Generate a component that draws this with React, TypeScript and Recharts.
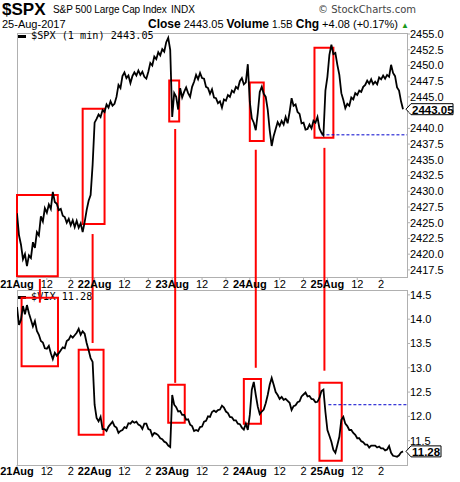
import React from "react";
import { LineChart, Line, XAxis, YAxis, ReferenceArea, ReferenceLine } from "recharts";

// 10-minute samples, 39 per session
const BARS_PER_DAY = 39;
const NOON = 15;
const TWO_PM = 27;
const DAYS = ["21Aug", "22Aug", "23Aug", "24Aug", "25Aug"];

const SPX_21 = [2426.5, 2423.0, 2421.5, 2419.2, 2420.0, 2418.1, 2419.8, 2419.4, 2421.9, 2421.0, 2423.5, 2423.0, 2426.0, 2425.2, 2427.3, 2426.6, 2427.9, 2427.2, 2429.9, 2428.3, 2428.0, 2427.0, 2427.2, 2426.1, 2425.9, 2425.0, 2425.6, 2424.6, 2425.4, 2424.3, 2425.3, 2424.2, 2424.9, 2423.5, 2425.1, 2427.0, 2428.5, 2429.4, 2434.2];
const SPX_22 = [2440.9, 2441.5, 2442.2, 2441.8, 2442.9, 2442.6, 2443.8, 2443.3, 2444.3, 2443.6, 2443.9, 2445.0, 2446.9, 2446.4, 2448.3, 2448.9, 2448.0, 2448.4, 2447.2, 2448.3, 2448.9, 2448.4, 2449.2, 2448.5, 2449.0, 2448.2, 2447.9, 2449.0, 2450.4, 2450.0, 2451.4, 2451.0, 2452.1, 2451.6, 2452.6, 2452.2, 2453.7, 2454.4, 2452.5];
const SPX_23 = [2441.8, 2445.6, 2445.0, 2443.0, 2446.4, 2444.9, 2445.8, 2446.5, 2445.6, 2445.0, 2446.6, 2447.4, 2448.5, 2447.8, 2448.8, 2448.0, 2447.9, 2446.6, 2446.4, 2445.5, 2446.2, 2444.9, 2444.8, 2444.0, 2444.3, 2443.3, 2444.6, 2444.4, 2445.3, 2445.0, 2446.0, 2445.7, 2446.6, 2446.3, 2447.5, 2448.0, 2447.0, 2447.3, 2450.2];
const SPX_24 = [2444.2, 2441.6, 2440.9, 2439.7, 2442.4, 2445.8, 2446.6, 2445.5, 2445.0, 2443.0, 2439.7, 2437.2, 2438.8, 2439.9, 2441.0, 2440.4, 2441.2, 2440.6, 2441.8, 2440.8, 2442.6, 2444.8, 2443.6, 2443.8, 2442.6, 2442.3, 2440.8, 2440.9, 2439.8, 2439.9, 2440.6, 2440.0, 2441.2, 2440.9, 2441.8, 2440.0, 2439.3, 2438.9, 2446.0];
const SPX_25 = [2448.2, 2451.7, 2453.3, 2451.8, 2452.0, 2450.1, 2448.5, 2445.6, 2444.5, 2443.2, 2443.9, 2443.6, 2444.9, 2444.6, 2445.6, 2445.3, 2446.0, 2445.8, 2446.6, 2446.9, 2447.6, 2447.1, 2447.8, 2447.0, 2447.4, 2447.0, 2448.1, 2447.8, 2448.4, 2447.9, 2448.5, 2448.2, 2450.1, 2448.8, 2448.3, 2446.5, 2446.0, 2444.3, 2443.05];

const VIX_21 = [14.25, 13.88, 13.99, 14.27, 14.10, 14.29, 14.12, 13.99, 13.85, 13.96, 13.76, 13.68, 13.55, 13.52, 13.40, 13.39, 13.45, 13.30, 13.18, 13.31, 13.25, 13.30, 13.36, 13.42, 13.40, 13.55, 13.58, 13.66, 13.62, 13.67, 13.72, 13.80, 13.68, 13.75, 13.70, 13.51, 13.36, 13.20, 13.12];
const VIX_22 = [12.24, 11.97, 11.90, 11.99, 11.74, 11.74, 11.70, 11.79, 11.84, 11.89, 11.80, 11.77, 11.66, 11.70, 11.72, 11.78, 11.76, 11.86, 11.85, 11.90, 11.87, 11.89, 11.83, 11.81, 11.74, 11.85, 11.85, 11.74, 11.72, 11.60, 11.66, 11.64, 11.61, 11.55, 11.53, 11.48, 11.46, 11.40, 11.37];
const VIX_23 = [12.44, 12.24, 12.19, 12.10, 12.11, 12.03, 12.03, 11.93, 11.94, 11.83, 11.80, 11.70, 11.72, 11.70, 11.78, 11.79, 11.89, 11.91, 12.00, 11.99, 12.09, 12.12, 12.09, 12.13, 12.14, 12.22, 12.18, 12.10, 12.07, 11.99, 11.98, 11.92, 11.92, 11.85, 11.84, 11.77, 11.73, 11.85, 11.72];
const VIX_24 = [12.03, 12.55, 12.71, 12.44, 12.20, 12.05, 12.10, 12.14, 12.27, 12.44, 12.65, 12.79, 12.65, 12.50, 12.44, 12.36, 12.40, 12.34, 12.36, 12.32, 12.28, 12.13, 12.21, 12.23, 12.29, 12.31, 12.41, 12.45, 12.49, 12.41, 12.42, 12.36, 12.35, 12.29, 12.30, 12.38, 12.52, 12.55, 12.09];
const VIX_25 = [11.72, 11.60, 11.48, 11.31, 11.25, 11.41, 11.58, 11.93, 11.99, 11.85, 11.80, 11.72, 11.72, 11.66, 11.62, 11.55, 11.55, 11.49, 11.47, 11.42, 11.42, 11.36, 11.40, 11.40, 11.40, 11.36, 11.38, 11.34, 11.34, 11.30, 11.32, 11.39, 11.25, 11.19, 11.18, 11.17, 11.20, 11.26, 11.28];

const SPX_TICKS = [2417.5, 2420, 2422.5, 2425, 2427.5, 2430, 2432.5, 2435, 2437.5, 2440, 2442.5, 2445, 2447.5, 2450, 2452.5, 2455];
const VIX_TICKS = [11.5, 12, 12.5, 13, 13.5, 14, 14.5];

const SPX_CLOSE = 2443.05;
const SPX_PREV = 2438.97;
const VIX_CLOSE = 11.28;
const VIX_PREV = 12.24;

// red annotation boxes (bar index / value units)
const SPX_BOXES = [
  { x1: 0, x2: 20.5, y1: 2416.5, y2: 2429.4 },
  { x1: 33, x2: 44, y1: 2424.8, y2: 2443.1 },
  { x1: 76.5, x2: 81.5, y1: 2441.1, y2: 2447.6 },
  { x1: 117, x2: 124, y1: 2438.0, y2: 2447.3 },
  { x1: 149.5, x2: 159, y1: 2438.5, y2: 2452.8 },
];
const VIX_BOXES = [
  { x1: 2.3, x2: 20.6, y1: 13.03, y2: 14.44 },
  { x1: 31, x2: 43.5, y1: 11.62, y2: 13.37 },
  { x1: 76, x2: 84.3, y1: 11.87, y2: 12.65 },
  { x1: 114, x2: 122.6, y1: 11.85, y2: 12.77 },
  { x1: 152, x2: 163.2, y1: 11.09, y2: 12.69 },
];
const LINKS = [
  { x: 11.5, spxFrom: 2416.05, vixTo: 14.34 },
  { x: 38, spxFrom: 2423.2, vixTo: 13.51 },
  { x: 79.5, spxFrom: 2439.9, vixTo: 12.69 },
  { x: 120, spxFrom: 2436.6, vixTo: 13.0 },
  { x: 154.5, spxFrom: 2436.9, vixTo: 12.94 },
];

const spx = [...SPX_21, ...SPX_22, ...SPX_23, ...SPX_24, ...SPX_25];
const vix = [...VIX_21, ...VIX_22, ...VIX_23, ...VIX_24, ...VIX_25];
const rows = spx.map((v, i) => ({ i, spx: v, vix: vix[i] }));

const xTicks: number[] = [];
const tickText: Record<number, { label: string; bold: boolean }> = {};
DAYS.forEach((d, k) => {
  const s = k * BARS_PER_DAY;
  xTicks.push(s, s + NOON, s + TWO_PM);
  tickText[s] = { label: d, bold: true };
  tickText[s + NOON] = { label: "12", bold: false };
  tickText[s + TWO_PM] = { label: "2", bold: false };
});

const X_DOMAIN = [0, 196];
const GREY = "#b0b0b0";
const RED = "#ff0000";
const BLUE = "#0000cc";

function DateTick(props: any) {
  const { x, y, payload, dy } = props;
  const t = tickText[payload.value];
  if (!t) return null;
  return (
    <text x={x} y={y} dy={dy} textAnchor="middle" fontFamily="Arial, Liberation Sans" fontSize={11} fontWeight={t.bold ? "bold" : "normal"} fill="#000">
      {t.label}
    </text>
  );
}

const tag = (text: string, w: number) => (props: any) => {
  const vb = props.viewBox;
  const x = vb.x + vb.width;
  const y = vb.y;
  return (
    <g>
      <path d={`M${x - 1},${y} L${x + 4},${y - 5.5} H${x + 4 + w} V${y + 5.5} H${x + 4} Z`} fill="#fff" stroke="#000" strokeWidth={1} />
      <text x={x + 5} y={y + 4.5} fontFamily="Arial, Liberation Sans" fontWeight="bold" fontSize={11.5} fill="#000">
        {text}
      </text>
    </g>
  );
};

// the last-price tag sits on top of the nearest tick label
const fmtAxis = (close: number, gap: number) => (v: number) => (Math.abs(v - close) < gap ? "" : v.toFixed(1));

const yTick = { fontSize: 11, fill: "#000", fontFamily: "Arial, Liberation Sans" };

const abs = (left: number, top: number, extra: React.CSSProperties = {}): React.CSSProperties => ({
  position: "absolute",
  left,
  top,
  whiteSpace: "nowrap",
  fontFamily: "Arial, Liberation Sans",
  color: "#000",
  lineHeight: "12px",
  ...extra,
});

export default function App() {
  return (
    <div style={{ position: "absolute", left: 0, top: 0, width: 460, height: 482, background: "#fff", overflow: "hidden" }}>
      {/* header */}
      <div style={abs(2, 1, { fontSize: 17, fontWeight: "bold", lineHeight: "18px" })}>$SPX</div>
      <div style={abs(53, 4, { fontSize: 10, letterSpacing: -0.1 })}>S&amp;P 500 Large Cap Index</div>
      <div style={abs(171, 4, { fontSize: 10 })}>INDX</div>
      <div style={abs(318, 4, { fontSize: 10, color: "#444", fontFamily: "DejaVu Sans" })}>© StockCharts.com</div>
      <div style={abs(2, 18, { fontSize: 11 })}>25-Aug-2017</div>
      <div style={abs(148, 18, { fontSize: 11 })}>
        <b style={{ fontSize: 12 }}>Close</b> 2443.05 <b style={{ fontSize: 12 }}>Volume</b> <span style={{ fontSize: 10 }}>1.5B</span>{" "}
        <b style={{ fontSize: 12 }}>Chg</b> +4.08 (+0.17%)
        <span style={{ color: "#1a9a1a", fontSize: 8, marginLeft: 3 }}>▲</span>
      </div>

      {/* panel borders */}
      <div style={{ position: "absolute", left: 17, top: 33, width: 391, height: 245, border: `1px solid ${GREY}`, boxSizing: "border-box" }} />
      <div style={{ position: "absolute", left: 17, top: 290, width: 391, height: 176, border: `1px solid ${GREY}`, boxSizing: "border-box" }} />

      {/* legends */}
      <div style={abs(18, 30, { fontSize: 10.2, fontFamily: "DejaVu Sans Mono", display: "flex", alignItems: "center" })}>
        <span style={{ display: "inline-block", width: 8, height: 3, background: "#000", marginRight: 5 }} />
        $SPX (1 min) 2443.05
      </div>
      <div style={abs(18, 291, { fontSize: 10.2, fontFamily: "DejaVu Sans Mono", display: "flex", alignItems: "center" })}>
        <span style={{ display: "inline-block", width: 8, height: 3, background: "#000", marginRight: 5 }} />
        $VIX 11.28
      </div>

      <div style={{ position: "absolute", left: 0, top: 0 }}>
        <LineChart width={460} height={290} data={rows} margin={{ top: 33, right: 0, bottom: 0, left: 17 }}>
          <XAxis dataKey="i" type="number" domain={X_DOMAIN} ticks={xTicks} interval={0} allowDataOverflow height={13}
            axisLine={false} tickLine={{ stroke: GREY }} tickSize={3} tick={<DateTick dy={6} />} />
          <YAxis orientation="right" domain={[2416.37, 2455.16]} ticks={SPX_TICKS} interval={0} allowDataOverflow width={53}
            axisLine={false} tickLine={{ stroke: GREY }} tickSize={3} tickMargin={0} tick={yTick} tickFormatter={fmtAxis(SPX_CLOSE, 1)} />
          <ReferenceLine segment={[{ x: 153, y: SPX_PREV }, { x: 196, y: SPX_PREV }]} stroke={BLUE} strokeDasharray="3 2" ifOverflow="visible" />
          <Line dataKey="spx" stroke="#000" strokeWidth={1.8} dot={false} isAnimationActive={false} type="linear" />
          {SPX_BOXES.map((b, k) => (
            <ReferenceArea key={k} x1={b.x1} x2={b.x2} y1={b.y1} y2={b.y2} fill="none" stroke={RED} strokeWidth={2} ifOverflow="visible" />
          ))}
          {LINKS.map((l, k) => (
            <ReferenceLine key={k} segment={[{ x: l.x, y: l.spxFrom }, { x: l.x, y: 2413 }]} stroke={RED} strokeWidth={2} ifOverflow="visible" />
          ))}
          <ReferenceLine y={SPX_CLOSE} stroke="none" label={tag("2443.05", 42)} />
        </LineChart>
      </div>

      <div style={{ position: "absolute", left: 0, top: 290 }}>
        <LineChart width={460} height={192} data={rows} margin={{ top: 0, right: 0, bottom: 0, left: 17 }}>
          <XAxis dataKey="i" type="number" domain={X_DOMAIN} ticks={xTicks} interval={0} allowDataOverflow height={17}
            axisLine={false} tickLine={{ stroke: GREY }} tickSize={3} tickMargin={0} tick={<DateTick dy={7} />} />
          <YAxis orientation="right" domain={[11.0, 14.6]} ticks={VIX_TICKS} interval={0} allowDataOverflow width={53}
            axisLine={false} tickLine={{ stroke: GREY }} tickSize={3} tickMargin={0} tick={yTick} tickFormatter={fmtAxis(VIX_CLOSE, 0.1)} />
          <ReferenceLine segment={[{ x: 156.5, y: VIX_PREV }, { x: 196, y: VIX_PREV }]} stroke={BLUE} strokeDasharray="3 2" ifOverflow="visible" />
          <Line dataKey="vix" stroke="#000" strokeWidth={1.8} dot={false} isAnimationActive={false} type="linear" />
          {VIX_BOXES.map((b, k) => (
            <ReferenceArea key={k} x1={b.x1} x2={b.x2} y1={b.y1} y2={b.y2} fill="none" stroke={RED} strokeWidth={2} ifOverflow="visible" />
          ))}
          {LINKS.map((l, k) => (
            <ReferenceLine key={k} segment={[{ x: l.x, y: 14.7 }, { x: l.x, y: l.vixTo }]} stroke={RED} strokeWidth={2} ifOverflow="visible" />
          ))}
          <ReferenceLine y={VIX_CLOSE} stroke="none" label={tag("11.28", 30)} />
        </LineChart>
      </div>
    </div>
  );
}
